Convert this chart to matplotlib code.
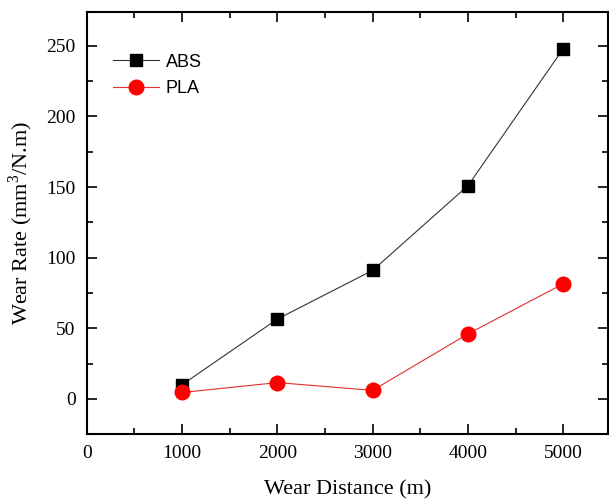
import matplotlib
matplotlib.use("Agg")
import matplotlib.pyplot as plt
from matplotlib.ticker import MultipleLocator

distance = [1000, 2000, 3000, 4000, 5000]
abs_rate = [10, 56.5, 91, 151, 248]
pla_rate = [4.5, 11.5, 6, 46, 81.5]

serif = "Liberation Serif"
sans = "Liberation Sans"
plt.rcParams["mathtext.fontset"] = "custom"
plt.rcParams["mathtext.rm"] = serif

fig = plt.figure(figsize=(6.09, 4.99), dpi=100)
ax = fig.add_axes([0.1425, 0.130, 0.856, 0.846])

ax.plot(distance, abs_rate, color="#333333", lw=0.8, marker="s", ms=9,
        mfc="black", mec="black", label="ABS")
ax.plot(distance, pla_rate, color="#e03030", lw=0.8, marker="o", ms=10.5,
        mfc="#ff0000", mec="#ff0000", label="PLA")

ax.set_xlim(0, 5470)
ax.set_ylim(-25, 274)
ax.xaxis.set_major_locator(MultipleLocator(1000))
ax.xaxis.set_minor_locator(MultipleLocator(500))
ax.yaxis.set_major_locator(MultipleLocator(50))
ax.yaxis.set_minor_locator(MultipleLocator(25))
ax.tick_params(which="both", direction="in", top=True, right=True, width=1.2)
ax.tick_params(which="major", length=7, labelsize=14, pad=8)
ax.tick_params(which="minor", length=4)
for lab in ax.get_xticklabels() + ax.get_yticklabels():
    lab.set_fontfamily(serif)
for s in ax.spines.values():
    s.set_linewidth(1.5)

ax.set_xlabel("Wear Distance (m)", fontsize=16, family=serif, labelpad=13)
ax.set_ylabel("Wear Rate (mm$^3$/N.m)", fontsize=16, family=serif, labelpad=8)

ax.legend(loc="upper left", bbox_to_anchor=(0.02, 0.94), frameon=False,
          prop={"family": sans, "size": 13}, handlelength=2.5,
          handletextpad=0.4, labelspacing=0.55)

fig.savefig("out.png", dpi=100)
